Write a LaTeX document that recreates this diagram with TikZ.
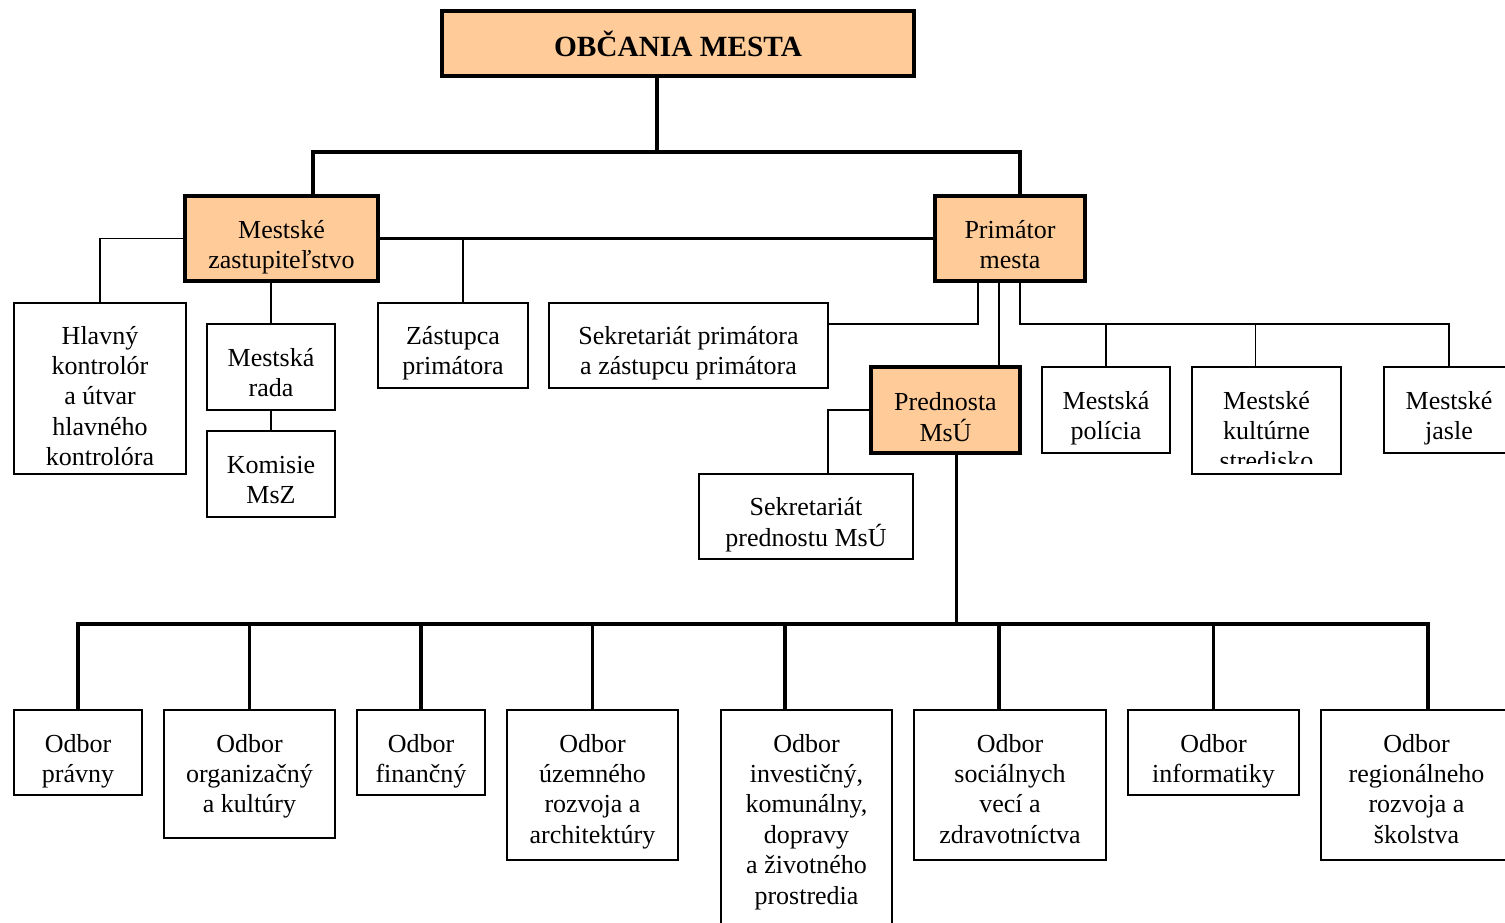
\documentclass[tikz,border=0pt]{standalone}
\usepackage{fontspec}
\setmainfont{Liberation Serif}
\usetikzlibrary{calc,fit}
\definecolor{peach}{RGB}{255,204,153}
\newcommand\lines[1]{\begin{tabular}[t]{@{}c@{}}#1\end{tabular}}
% box from its corners: name, style, x1, y1, x2, y2
\newcommand\orgbox[6]{\node[#2, fit={(#3,#4) (#5,#6)}] (#1) {};}

\begin{document}
\begin{tikzpicture}[x=0.75pt,y=-0.75pt,
  unit/.style={draw=black, line width=1.1pt, inner sep=0pt, outer sep=0pt, fill=white},
  lead/.style={draw=black, line width=2.4pt, inner sep=0pt, outer sep=0pt, fill=peach},
  lbl/.style={anchor=base, inner sep=0pt, font=\fontsize{19.5}{22.8}\selectfont},
  headtext/.style={anchor=base, inner sep=0pt, font=\fontsize{22}{25}\selectfont\bfseries},
  thk/.style={line width=2.4pt},
  med/.style={line width=1.6pt},
  thn/.style={line width=1.1pt}]
\useasboundingbox (0,0) rectangle (1505,922);
\clip (0,0) rectangle (1505,922);

% ---- boxes ----
\orgbox{ob}{lead}{442}{11}{914}{76}
\orgbox{mz}{lead}{185}{196}{378}{281}
\orgbox{pm}{lead}{935}{196}{1085}{281}
\orgbox{hk}{unit}{14}{303}{186}{474}
\orgbox{mr}{unit}{207}{324}{335}{410}
\orgbox{km}{unit}{207}{431}{335}{517}
\orgbox{zp}{unit}{378}{303}{528}{388}
\orgbox{sp}{unit}{549}{303}{828}{388}
\orgbox{pr}{lead}{871}{367}{1020}{453}
\orgbox{mp}{unit}{1042}{367}{1170}{453}
\orgbox{ks}{unit}{1192}{367}{1341}{474}
\orgbox{mj}{unit}{1384}{367}{1514}{453}
\orgbox{spr}{unit}{699}{474}{913}{559}
\orgbox{o1}{unit}{14}{710}{142}{795}
\orgbox{o2}{unit}{164}{710}{335}{838}
\orgbox{o3}{unit}{357}{710}{485}{795}
\orgbox{o4}{unit}{507}{710}{678}{860}
\orgbox{o5}{unit}{721}{710}{892}{950}
\orgbox{o6}{unit}{914}{710}{1106}{860}
\orgbox{o7}{unit}{1128}{710}{1299}{795}
\orgbox{o8}{unit}{1321}{710}{1512}{860}

% ---- labels ----
\node[headtext] (t-ob) at ($(ob.north)+(0,45.5)$) {OBČANIA MESTA};
\node[lbl] (t-mz) at ($(mz.north)+(0,42)$) {\lines{Mestské\\zastupiteľstvo}};
\node[lbl] (t-pm) at ($(pm.north)+(0,42)$) {\lines{Primátor\\mesta}};
\node[lbl] (t-hk) at ($(hk.north)+(0,41)$) {\lines{Hlavný\\kontrolór\\a útvar\\hlavného\\kontrolóra}};
\node[lbl] (t-mr) at ($(mr.north)+(0,42)$) {\lines{Mestská\\rada}};
\node[lbl] (t-km) at ($(km.north)+(0,42)$) {\lines{Komisie\\MsZ}};
\node[lbl] (t-zp) at ($(zp.north)+(0,41)$) {\lines{Zástupca\\primátora}};
\node[lbl] (t-sp) at ($(sp.north)+(0,41)$) {\lines{Sekretariát primátora\\a zástupcu primátora}};
\node[lbl] (t-pr) at ($(pr.north)+(0,43)$) {\lines{Prednosta\\MsÚ}};
\node[lbl] (t-mp) at ($(mp.north)+(0,42)$) {\lines{Mestská\\polícia}};
\begin{scope}
  \clip (ks.north west) rectangle ($(ks.south east)+(0,-11)$);
  \node[lbl] (t-ks) at ($(ks.north)+(0,42)$) {\lines{Mestské\\kultúrne\\stredisko}};
\end{scope}
\node[lbl] (t-mj) at ($(mj.north)+(0,42)$) {\lines{Mestské\\jasle}};
\node[lbl] (t-spr) at ($(spr.north)+(0,41)$) {\lines{Sekretariát\\prednostu MsÚ}};
\node[lbl] (t-o1) at ($(o1.north)+(0,42)$) {\lines{Odbor\\právny}};
\node[lbl] (t-o2) at ($(o2.north)+(0,42)$) {\lines{Odbor\\organizačný\\a kultúry}};
\node[lbl] (t-o3) at ($(o3.north)+(0,42)$) {\lines{Odbor\\finančný}};
\node[lbl] (t-o4) at ($(o4.north)+(0,42)$) {\lines{Odbor\\územného\\rozvoja a\\architektúry}};
\node[lbl] (t-o5) at ($(o5.north)+(0,42)$) {\lines{Odbor\\investičný,\\komunálny,\\dopravy\\a životného\\prostredia}};
\node[lbl] (t-o6) at ($(o6.north)+(0,42)$) {\lines{Odbor\\sociálnych\\vecí a\\zdravotníctva}};
\node[lbl] (t-o7) at ($(o7.north)+(0,42)$) {\lines{Odbor\\informatiky}};
\node[lbl] (t-o8) at ($(o8.north)+(0,42)$) {\lines{Odbor\\regionálneho\\rozvoja a\\školstva}};

% ---- top tier ----
\draw[thk] ($(ob.south)+(-21,0)$) -- ++(0,76);
\draw[thk] ($(mz.north)+(31.5,0)$) -- ++(0,-44) -| ($(pm.north)+(10,0)$);
\draw[thk] (mz.east) -- (pm.west);

% ---- council side ----
\draw[thn] (mz.west) -| (hk.north);
\draw[thn] ($(zp.north)+(10,0)$) -- ++(0,-64);
\draw[thn] (mr.north) -- (mr.north |- mz.south);
\draw[thn] (mr.south) -- (km.north);

% ---- mayor side ----
\draw[thn] ($(pm.south)+(-32,0)$) |- ($(sp.east)+(0,-21.5)$);
\draw[med] ($(pm.south)+(-11,0)$) -- ++(0,86);
\draw[thn] ($(pm.south)+(10,0)$) -- ++(0,43) -| (mj.north);
\draw[thn] (mp.north) -- ++(0,-43);
\draw[thn] ($(ks.north)+(-11,0)$) -- ++(0,-43);
\draw[thn] (pr.west) -| ($(spr.north)+(22,0)$);

% ---- departments ----
\draw[thk] ($(pr.south)+(11,0)$) -- ++(0,171);
\draw[thk] (o1.north) -- ++(0,-86) -| ($(o8.north)+(11.5,0)$);
\foreach \n/\dx in {o2/0,o3/0,o4/0,o5/-21.5,o6/-11,o7/0}
  \draw[thk] ($(\n.north)+(\dx,0)$) -- ++(0,-86);
\end{tikzpicture}
\end{document}
